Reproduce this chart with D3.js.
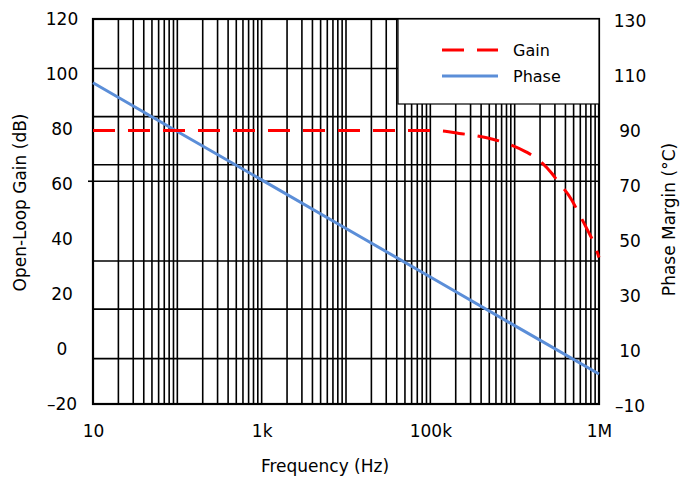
<!DOCTYPE html>
<meta charset="utf-8">
<script src="https://d3js.org/d3.v7.min.js"></script>
<style>
  body { margin: 0; background: #fff; }
  text { font-family: "DejaVu Sans", Verdana, sans-serif; fill: #000; }
</style>
<body>
<script>

// frequency axis (grid spans six decades, labels as printed)
var freqTicks      = [10, 1e3, 1e5, 1e7];
var freqTickLabels = ["10", "1k", "100k", "1M"];

// left axis: open-loop gain (dB)
var gainTicks = [-20, 0, 20, 40, 60, 80, 100, 120];
// right axis: phase margin
var phaseTicks = [-10, 10, 30, 50, 70, 90, 110, 130];

// horizontal grid lines, read in gain units
var gainGrid      = [-3.5, 14.5, 32, 61, 67, 84.5, 102];
var gainTickMarks = [61];

// gain curve
var gainFreq = [10, 1e5, 1.5e5, 2.2e5, 3.1e5, 5.5e5, 7.7e5, 1.36e6, 1.83e6, 2.75e6, 3.15e6, 4.75e6, 5.64e6, 7.47e6, 8.57e6, 1e7];
var gainDb   = [79.5, 79.5, 79.2, 78.4, 77.8, 76.3, 75.0, 71.7, 69.3, 63.9, 61.5, 54.2, 49.9, 42.7, 39.0, 33.3];

// phase curve
var phaseFreq = [10, 100, 1e3, 1e4, 1e5, 1e6, 1e7];
var phaseDeg  = [106.8, 89.1, 71.5, 53.8, 36.2, 18.5, 0.9];

var W = 680, H = 479;
var margin = {top: 19, right: 81, bottom: 75, left: 93},
    width  = W - margin.left - margin.right,
    height = H - margin.top - margin.bottom;

var svg = d3.select("body").append("svg")
    .attr("width", W)
    .attr("height", H)
  .append("g")
    .attr("transform", "translate(" + margin.left + "," + margin.top + ")");

var x  = d3.scaleLog().domain([10, 1e7]).range([0, width]);
var yL = d3.scaleLinear().domain([-20, 120]).range([height, 0]);
var yR = d3.scaleLinear().domain([-10, 130]).range([height, 0]);

// vertical grid: 2..9 within each decade plus decade lines
var vGrid = [];
for (var k = 1; k < 1e7; k *= 10) {
  for (var m = 1; m <= 9; m++) {
    var f = 10 * k * m;
    if (f > 10 && f < 1e7) vGrid.push(f);
  }
}

svg.append("g").selectAll("line")
  .data(vGrid)
  .enter().append("line")
    .attr("x1", function(d) { return x(d); })
    .attr("x2", function(d) { return x(d); })
    .attr("y1", 0)
    .attr("y2", height)
    .style("stroke", "#000")
    .style("stroke-width", 1.6);

svg.append("g").selectAll("line")
  .data(gainGrid)
  .enter().append("line")
    .attr("x1", 0)
    .attr("x2", width)
    .attr("y1", function(d) { return yL(d); })
    .attr("y2", function(d) { return yL(d); })
    .style("stroke", "#000")
    .style("stroke-width", 1.6);

svg.append("g").selectAll("line")
  .data(gainTickMarks)
  .enter().append("line")
    .attr("x1", -5)
    .attr("x2", 0)
    .attr("y1", function(d) { return yL(d); })
    .attr("y2", function(d) { return yL(d); })
    .style("stroke", "#000")
    .style("stroke-width", 1.6);

// plot frame
svg.append("rect")
    .attr("width", width)
    .attr("height", height)
    .style("fill", "none")
    .style("stroke", "#000")
    .style("stroke-width", 2.2);

function dashMinus(d) { return d < 0 ? "\u2013" + Math.abs(d) : "" + d; }

// x axis labels
var xAxis = svg.append("g")
    .attr("transform", "translate(0," + height + ")")
    .style("font-size", "17px")
    .call(d3.axisBottom(x).tickValues(freqTicks)
      .tickFormat(function(d, i) { return freqTickLabels[i]; })
      .tickSize(0).tickPadding(21));
xAxis.select(".domain").remove();
xAxis.selectAll("text").style("font-family", "DejaVu Sans").attr("fill", "#000");

// left axis labels
var yAxisL = svg.append("g")
    .style("font-size", "17px")
    .call(d3.axisLeft(yL).tickValues(gainTicks).tickFormat(dashMinus).tickSize(0));
yAxisL.select(".domain").remove();
yAxisL.selectAll("text")
    .attr("x", -31)
    .style("text-anchor", "middle")
    .style("font-family", "DejaVu Sans")
    .attr("fill", "#000");

// right axis labels
var yAxisR = svg.append("g")
    .attr("transform", "translate(" + width + ",0)")
    .style("font-size", "17px")
    .call(d3.axisRight(yR).tickValues(phaseTicks).tickFormat(dashMinus).tickSize(0));
yAxisR.select(".domain").remove();
yAxisR.selectAll("text")
    .attr("x", 31)
    .attr("dy", "0.45em")
    .style("text-anchor", "middle")
    .style("font-family", "DejaVu Sans")
    .attr("fill", "#000");

// axis titles
svg.append("text")
    .attr("x", 232)
    .attr("y", 453)
    .attr("text-anchor", "middle")
    .style("font-size", "17px")
    .text("Frequency (Hz)");

svg.append("text")
    .attr("transform", "translate(-73," + (height / 2 - 9) + ") rotate(-90)")
    .attr("dy", "0.35em")
    .attr("text-anchor", "middle")
    .style("font-size", "17px")
    .text("Open-Loop Gain (dB)");

svg.append("text")
    .attr("transform", "translate(" + (width + 70) + "," + (height / 2 + 8) + ") rotate(-90)")
    .attr("dy", "0.35em")
    .attr("text-anchor", "middle")
    .style("font-size", "17px")
    .text("Phase Margin (\u00b0C)");

// legend box
var legend = svg.append("g")
    .attr("transform", "translate(" + (width - 201) + ",0)");
legend.append("rect")
    .attr("width", 201)
    .attr("height", 85)
    .style("fill", "#fff")
    .style("stroke", "#000")
    .style("stroke-width", 1.2);

// series
var gainData  = gainFreq.map(function(f, i) { return {f: f, v: gainDb[i]}; });
var phaseData = phaseFreq.map(function(f, i) { return {f: f, v: phaseDeg[i]}; });

svg.append("path")
    .datum(phaseData)
    .attr("d", d3.line()
      .x(function(d) { return x(d.f); })
      .y(function(d) { return yR(d.v); }))
    .style("fill", "none")
    .style("stroke", "#5b8ed8")
    .style("stroke-width", 3);

svg.append("path")
    .datum(gainData)
    .attr("d", d3.line()
      .curve(d3.curveMonotoneX)
      .x(function(d) { return x(d.f); })
      .y(function(d) { return yL(d.v); }))
    .style("fill", "none")
    .style("stroke", "#ff0000")
    .style("stroke-width", 3)
    .style("stroke-dasharray", "22,13");

var legendItems = [
  {name: "Gain",  color: "#ff0000", dash: "22,13", y: 31},
  {name: "Phase", color: "#5b8ed8", dash: null,    y: 57}
];

var li = legend.selectAll(".item")
  .data(legendItems)
  .enter().append("g")
    .attr("class", "item");

li.append("line")
    .attr("x1", 44)
    .attr("x2", 100)
    .attr("y1", function(d) { return d.y; })
    .attr("y2", function(d) { return d.y; })
    .style("stroke", function(d) { return d.color; })
    .style("stroke-width", 3)
    .style("stroke-dasharray", function(d) { return d.dash; });

li.append("text")
    .attr("x", 115)
    .attr("y", function(d) { return d.y + 6; })
    .style("font-size", "16px")
    .text(function(d) { return d.name; });

</script>
</body>
